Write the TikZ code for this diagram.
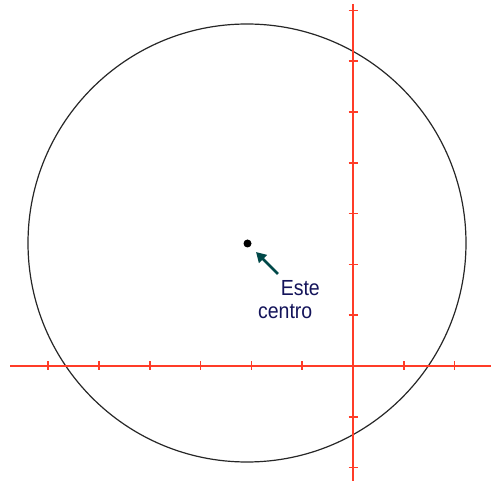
\documentclass[tikz,border=0pt]{standalone}
\usepackage{fontspec}
\setmainfont{Liberation Sans}
\usetikzlibrary{arrows.meta}
\definecolor{axisred}{RGB}{255,60,40}
\definecolor{arrowteal}{RGB}{0,72,72}
\definecolor{textnavy}{RGB}{20,20,90}
\begin{document}
\begin{tikzpicture}[x=1pt,y=-1pt,
  axis/.style={draw=axisred,line width=1.8pt},
  tick/.style={draw=axisred,line width=1.5pt},
  lbl/.style={text=textnavy,font=\fontsize{19.5}{22}\selectfont,inner sep=0pt,yscale=1.12}]
\useasboundingbox (0,0) rectangle (491,481);
% circle
\node[draw=black!85,line width=1.2pt,circle,minimum size=438pt,inner sep=0pt] (circ) at (247,243) {};
% axes
\coordinate (xl) at (10,366);
\coordinate (xr) at (491,366);
\coordinate (yt) at (353,4);
\coordinate (yb) at (353,481);
\draw[axis] (xl) -- (xr);
\draw[axis] (yt) -- (yb);
\foreach \k in {-6,...,-1,1,2}
  \draw[tick] ({353+50.8*\k},361.5) -- ({353+50.8*\k},370.5);
\foreach \k in {-7,...,-1,1,2}
  \draw[tick] (348.5,{366+50.8*\k}) -- (357.5,{366+50.8*\k});
% center dot
\node[fill=black,circle,minimum size=8pt,inner sep=0pt] (c) at (247.5,243.5) {};
% arrow
\coordinate (tail) at (278,274);
\coordinate (tip) at (256,252);
\draw[arrowteal,line width=2.8pt,-{Triangle[length=10pt,width=11pt]}] (tail) -- (tip);
% labels
\node[lbl,anchor=east] (este) at (320,288) {Este};
\node[lbl,anchor=east] (centro) at (312.5,312) {centro};
\end{tikzpicture}
\end{document}
